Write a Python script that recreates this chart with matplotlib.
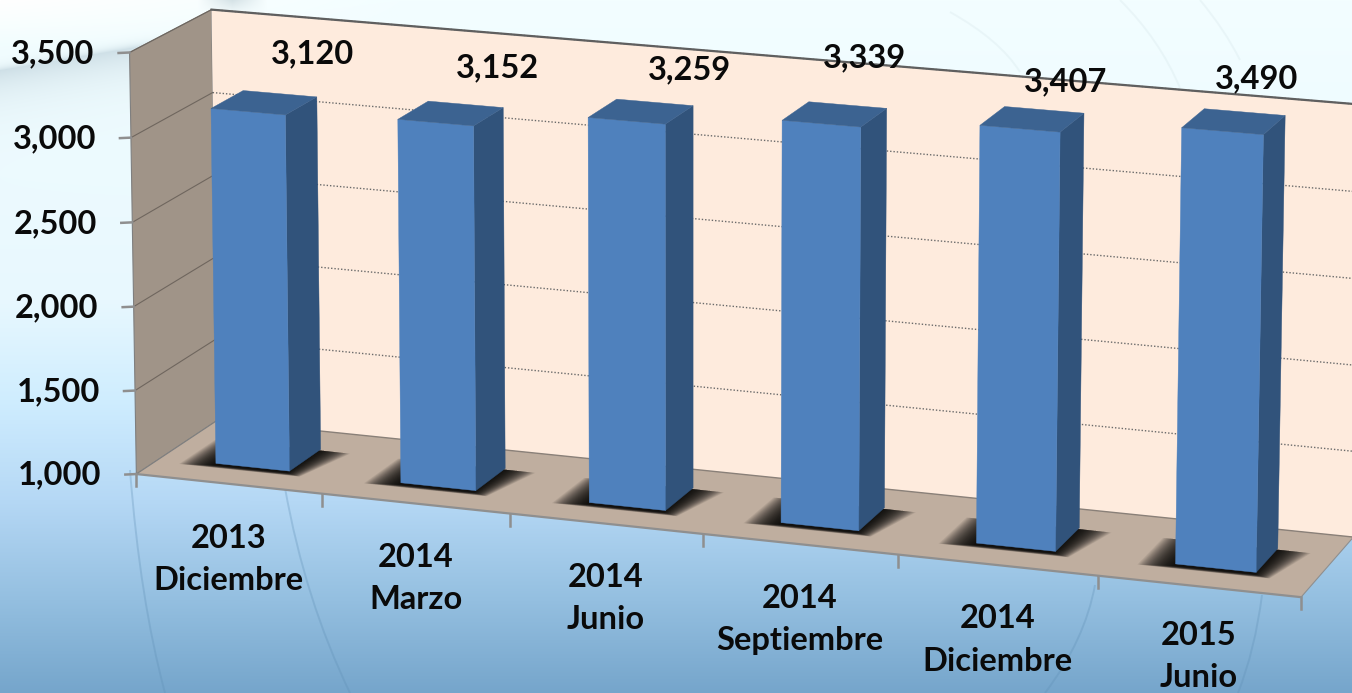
import numpy as np
import matplotlib
matplotlib.use("Agg")
import matplotlib.pyplot as plt
from matplotlib.path import Path
from matplotlib.patches import PathPatch

# ---------- data ----------
years = ["2013", "2014", "2014", "2014", "2014", "2015"]
months = ["Diciembre", "Marzo", "Junio", "Septiembre", "Diciembre", "Junio"]
values = [3120, 3152, 3259, 3339, 3407, 3490]
value_labels = ["3,120", "3,152", "3,259", "3,339", "3,407", "3,490"]
y_ticks = [1000, 1500, 2000, 2500, 3000, 3500]
y_tick_labels = ["1,000", "1,500", "2,000", "2,500", "3,000", "3,500"]

# ---------- layout / style ----------
W, H = 1352, 693
VMIN, VMAX = 1000, 3500
GAP = 0.30
Z0, Z1 = 0.30, 0.70
FONT = "Lato"
FS = 23.5
label_offsets = [(-2, -49), (-3, -46), (-1, -42), (-20, -57), (-17, -37), (-27, -43)]
category_offsets = [76, 75, 75, 75, 75, 70]

# projective camera calibrated on frame landmarks: (cat, value, depth) -> pixel
calib = [
    (0, 1000, 0, 138, 472), (1, 1000, 0, 322, 492), (2, 1000, 0, 510, 515),
    (3, 1000, 0, 702, 536), (4, 1000, 0, 897, 557), (5, 1000, 0, 1097, 578),
    (6, 1000, 0, 1298, 597),
    (0, 3500, 0, 128, 51), (0, 3000, 0, 130, 137), (0, 2500, 0, 132, 221),
    (0, 1000, 1, 212, 421), (0, 3500, 1, 212, 11),
    (6, 1000, 1, 1356, 538), (6, 3500, 1, 1356, 104),
    (GAP, 3120, Z0, 211, 108), (1 - GAP, 3120, Z0, 285, 116),
    (1 - GAP, 3120, Z1, 317, 98), (GAP, 3120, Z1, 245, 92),
    (GAP, 1000, Z0, 217, 463), (1 - GAP, 1000, Z0, 292, 472), (1 - GAP, 1000, Z1, 322, 448),
    (5 + GAP, 3490, Z0, 1182, 127), (6 - GAP, 3490, Z0, 1265, 134),
    (6 - GAP, 3490, Z1, 1287, 116), (5 + GAP, 3490, Z1, 1207, 109),
    (5 + GAP, 1000, Z0, 1175, 564), (6 - GAP, 1000, Z0, 1257, 573), (6 - GAP, 1000, Z1, 1279, 543),
]
A = []
for c, v, z, px, py in calib:
    X = [c, (v - VMIN) / (VMAX - VMIN), z, 1]
    px, py = px / 1000, py / 1000
    A.append(X + [0, 0, 0, 0] + [-px * t for t in X])
    A.append([0, 0, 0, 0] + X + [-py * t for t in X])
M = np.linalg.svd(np.array(A))[2][-1].reshape(3, 4)


def proj(c, v, z):
    q = M @ np.array([c, (v - VMIN) / (VMAX - VMIN), z, 1.0])
    return 1000 * q[0] / q[2], 1000 * q[1] / q[2]


fig = plt.figure(figsize=(W / 100, H / 100), dpi=100)
ax = fig.add_axes([0, 0, 1, 1])
ax.set_xlim(0, W)
ax.set_ylim(H, 0)
ax.axis("off")

# ---------- background ----------
yy, xx = np.mgrid[0:H, 0:W]
stops_y = [0, 300, 400, 500, 600, 693]
stops = np.array([[243, 254, 255], [232, 248, 255], [207, 237, 255],
                  [181, 216, 245], [148, 191, 224], [117, 165, 203]], float)
img = np.dstack([np.interp(yy, stops_y, stops[:, i]) for i in range(3)])
d = yy - (70 - 0.17 * xx)
band = np.where(d > 0, np.exp(-d / 26), np.exp(d / 4)) * np.clip((250 - xx) / 120, 0, 1) * 0.28
img = img * (1 - band[..., None]) + np.array([120, 150, 170]) * band[..., None]
white = np.clip(1 - yy / 45, 0, 1) * np.clip(1 - xx / 400, 0, 1)
img = img * (1 - white[..., None]) + 255 * white[..., None]
d2 = np.clip((15 - yy) / 15, 0, 1) * np.clip(1 - np.abs(xx - 232) / 35, 0, 1) * 0.35
img = img * (1 - d2[..., None]) + np.array([150, 175, 185]) * d2[..., None]
ax.imshow(img.astype(np.uint8), extent=(0, W, H, 0), aspect="auto", zorder=0, interpolation="bilinear")

arcs = [((130, 470), (140, 600), (165, 693)), ((285, 488), (305, 600), (350, 693)),
        ((1095, 585), (1085, 640), (1045, 693)), ((1262, 595), (1255, 650), (1238, 693)),
        ((1120, 0), (1160, 40), (1180, 88)), ((950, 12), (1000, 40), (1020, 72)),
        ((1200, 0), (1225, 30), (1240, 60))]
for a, b, c in arcs:
    ax.add_patch(PathPatch(Path([a, b, c], [Path.MOVETO, Path.CURVE3, Path.CURVE3]),
                           fc="none", ec="#5F8FB5" if a[1] > 300 else "#D5E5E8",
                           lw=1.4, alpha=0.3, zorder=1))

# ---------- walls and floor ----------
LEFT_WALL = "#A09488"
BACK_WALL = "#FEEBDD"
FLOOR = "#BFAE9F"
FRAME = "#8F8F8F"
xs_front = np.arange(7)


def poly(points, **kw):
    ax.fill(*zip(*points), **kw)


poly([proj(0, VMIN, 0), proj(0, VMAX, 0), proj(0, VMAX, 1), proj(0, VMIN, 1)],
     fc=LEFT_WALL, ec="#7F7F7F", lw=0.8, zorder=2)
poly([proj(0, VMIN, 1), proj(0, VMAX, 1), proj(6, VMAX, 1), proj(6, VMIN, 1)],
     fc=BACK_WALL, ec="none", zorder=2)
floor_pts = [proj(0, VMIN, 0), proj(6, VMIN, 0), proj(6, VMIN, 1), proj(0, VMIN, 1)]
poly(floor_pts, fc=FLOOR, ec="none", zorder=3)
ax.plot(*zip(proj(0, VMAX, 1), proj(6, VMAX, 1)), color="#5F5F5F", lw=1.6, zorder=4)
ax.plot(*zip(proj(0, VMIN, 1), proj(6, VMIN, 1)), color="#8A8078", lw=1.0, zorder=4)
ax.plot(*zip(proj(0, VMIN, 0), proj(6, VMIN, 0)), color=FRAME, lw=1.6, zorder=4)
ax.plot(*zip(proj(6, VMIN, 0), proj(6, VMIN, 1)), color=FRAME, lw=0.8, zorder=4)
ax.plot(*zip(proj(0, VMIN, 0), proj(0, VMIN, 1)), color="#7F7F7F", lw=0.8, zorder=4)

for t, lab in zip(y_ticks, y_tick_labels):
    if t != VMIN:
        ax.plot(*zip(proj(0, t, 0), proj(0, t, 1)), color="#6F665E", lw=0.8, zorder=3)
        ax.plot(*zip(proj(0, t, 1), proj(6, t, 1)), color="#6A6A6A", lw=1.0,
                ls=(0, (1, 1.4)), zorder=3)
    px, py = proj(0, t, 0)
    ax.plot([px - 11, px], [py + 0.5, py], color=FRAME, lw=1.8, zorder=4)
    ax.text(px - 35, py + 1, lab, ha="right", va="center", family=FONT,
            weight="bold", fontsize=FS, color="#0A0A0A", zorder=8)

for c in xs_front:
    px, py = proj(c, VMIN, 0)
    ax.plot([px, px], [py, py + 12], color=FRAME, lw=1.8, zorder=4)

# ---------- shadows and bars ----------
floor_clip = plt.Polygon(floor_pts, transform=ax.transData)
for i, v in enumerate(values):
    c0, c1 = i + GAP, i + 1 - GAP
    for k in np.linspace(1, 0, 30):
        ex = 0.17 * k
        ez = 0.08 * k
        patch = plt.Polygon([proj(c0 - ex, VMIN, Z0 - 0.03 - ez * 0.5), proj(c1 + ex * 0.5, VMIN, Z0 - 0.03 - ez * 0.5),
                             proj(c1 + ex, VMIN, Z1 - 0.02), proj(c0 - ex, VMIN, Z1 - 0.02)],
                            fc="black", ec="none", alpha=0.065, zorder=5)
        ax.add_patch(patch)
        patch.set_clip_path(floor_clip)
    poly([proj(c1, VMIN, Z0), proj(c1, v, Z0), proj(c1, v, Z1), proj(c1, VMIN, Z1)],
         fc="#31537B", ec="#31537B", lw=0.3, zorder=6 + i * 0.01)
    poly([proj(c0, VMIN, Z0), proj(c0, v, Z0), proj(c1, v, Z0), proj(c1, VMIN, Z0)],
         fc="#4F81BD", ec="#4F81BD", lw=0.3, zorder=6 + i * 0.01)
    poly([proj(c0, v, Z0), proj(c0, v, Z1), proj(c1, v, Z1), proj(c1, v, Z0)],
         fc="#3C6391", ec="#3C6391", lw=0.3, zorder=6 + i * 0.01)
    tx, ty = proj(i + 0.5, v, 0.5)
    ox, oy = label_offsets[i]
    ax.text(tx + ox + 50, ty + oy, value_labels[i], ha="center", va="center", family=FONT,
            weight="bold", fontsize=FS, color="#0A0A0A", zorder=8)
    bx, by = proj(i + 0.5, VMIN, 0)
    ax.text(bx, by + category_offsets[i], years[i] + "\n" + months[i], ha="center", va="center", family=FONT,
            weight="bold", fontsize=FS, color="#0A0A0A", linespacing=1.55, zorder=8)

fig.savefig("out.png", dpi=100)
